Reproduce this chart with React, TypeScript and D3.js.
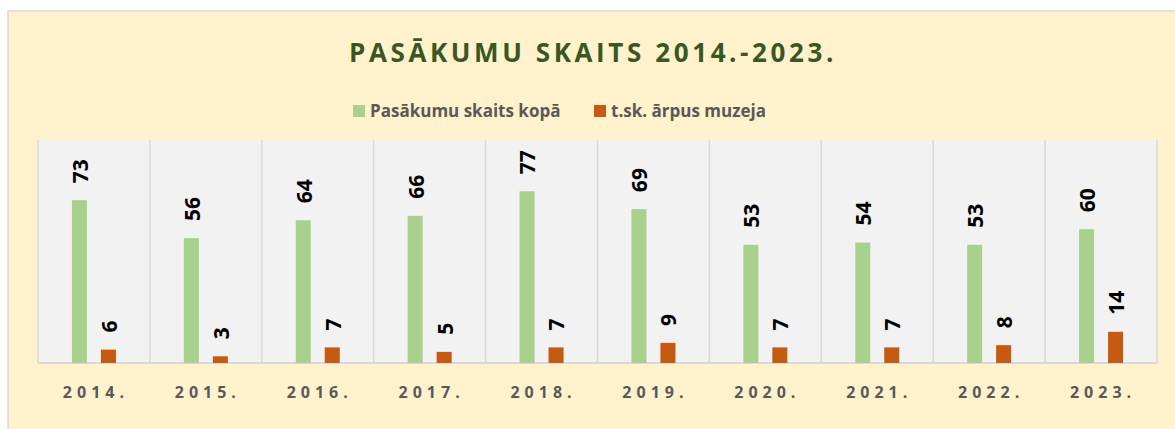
import React from 'react'
import { scaleBand, scaleLinear } from 'd3'

const years = ['2014.', '2015.', '2016.', '2017.', '2018.', '2019.', '2020.', '2021.', '2022.', '2023.']
const totalEvents = [73, 56, 64, 66, 77, 69, 53, 54, 53, 60]
const outsideEvents = [6, 3, 7, 5, 7, 9, 7, 7, 8, 14]
const seriesNames = ['Pasākumu skaits kopā', 't.sk. ārpus muzeja']
const colors = ['#A9D18E', '#C55A11']

const width = 1175
const height = 429
const plot = { left: 38, right: 1157, top: 140, bottom: 363 }
const font = '"Open Sans", "DejaVu Sans", sans-serif'

export default function App() {
  const xScale = scaleBand().domain(years).range([plot.left, plot.right])
  const yScale = scaleLinear().domain([0, 100]).range([plot.bottom, plot.top])
  const barW = 15
  const offsets = [-14.5, 14.5]
  const series = [totalEvents, outsideEvents]

  return (
    <svg width={width} height={height} style={{ position: 'absolute', left: 0, top: 0 }}>
      <rect x={8} y={11} width={width} height={height} fill="#FFF2CC" stroke="#D9D9D9" strokeWidth={1.5} />
      <text x={593} y={62} textAnchor="middle" fill="#385723" fontFamily={font} fontWeight="bold" fontSize={26} letterSpacing={3.6}>
        PASĀKUMU SKAITS 2014.-2023.
      </text>

      {/* legend */}
      {seriesNames.map((name, i) => {
        const lx = i === 0 ? 353 : 594
        return (
          <g key={name} transform={`translate(${lx},111)`}>
            <rect x={0} y={-6} width={12} height={12} fill={colors[i]} />
            <text x={17} dy=".35em" fill="#595959" fontFamily={font} fontWeight="bold" fontSize={17}>{name}</text>
          </g>
        )
      })}

      <rect x={plot.left} y={plot.top} width={plot.right - plot.left} height={plot.bottom - plot.top} fill="#F2F2F2" />
      {years.map(y => (
        <line key={y} x1={xScale(y)} x2={xScale(y)} y1={plot.top} y2={plot.bottom} stroke="#D9D9D9" strokeWidth={1.5} />
      ))}
      <line x1={plot.right} x2={plot.right} y1={plot.top} y2={plot.bottom} stroke="#D9D9D9" strokeWidth={1.5} />
      <line x1={plot.left} x2={plot.right} y1={plot.bottom} y2={plot.bottom} stroke="#D9D9D9" strokeWidth={2} />

      {series.map((vals, si) =>
        years.map((y, i) => {
          const cx = xScale(y) + xScale.bandwidth() / 2 + offsets[si]
          const top = yScale(vals[i])
          return (
            <g key={`${si}-${y}`}>
              <rect x={cx - barW / 2} y={top} width={barW} height={plot.bottom - top} fill={colors[si]} />
              <text
                transform={`translate(${cx + 1},${top - 17}) rotate(-90)`}
                dy=".35em"
                fill="#000"
                fontFamily={font}
                fontWeight="bold"
                fontSize={21}
              >
                {vals[i]}
              </text>
            </g>
          )
        })
      )}

      {years.map(y => (
        <text key={y} x={xScale(y) + xScale.bandwidth() / 2 + 2} y={398} textAnchor="middle" fill="#595959"
          fontFamily={font} fontWeight="bold" fontSize={16} letterSpacing={5}>
          {y}
        </text>
      ))}
    </svg>
  )
}
